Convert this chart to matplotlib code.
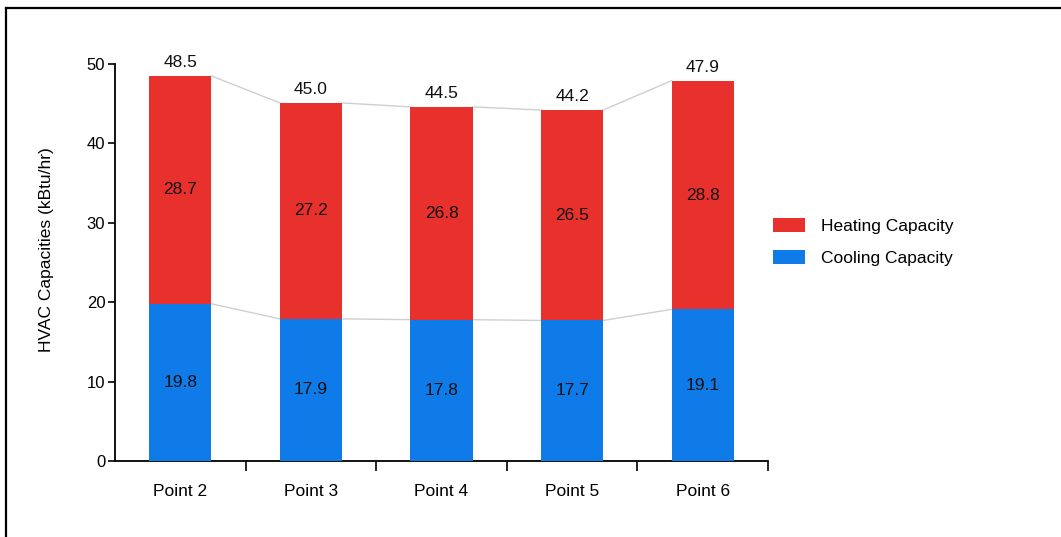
import matplotlib
matplotlib.use("Agg")
import matplotlib.pyplot as plt
from matplotlib.lines import Line2D
import numpy as np

categories = ["Point 2", "Point 3", "Point 4", "Point 5", "Point 6"]
cooling = [19.8, 17.9, 17.8, 17.7, 19.1]
heating = [28.7, 27.2, 26.8, 26.5, 28.8]
totals = [48.5, 45.0, 44.5, 44.2, 47.9]

red = "#E8302C"
blue = "#0E7BE8"
plt.rcParams["font.family"] = ["Liberation Sans", "DejaVu Sans"]
fs = 12.5

fig = plt.figure(figsize=(10.61, 5.37), dpi=100)
ax = fig.add_axes([115/1061, 1-461/537, (768-115)/1061, (461-64)/537])

x = np.arange(len(categories))
w = 0.475
ax.bar(x, cooling, width=w, color=blue, label="Cooling Capacity", zorder=3)
ax.bar(x, heating, width=w, bottom=cooling, color=red, label="Heating Capacity", zorder=3)

# connector lines
for i in range(len(x) - 1):
    ax.plot([x[i] + w/2, x[i+1] - w/2], [cooling[i], cooling[i+1]], color="#cfcfcf", lw=1, zorder=2)
    ax.plot([x[i] + w/2, x[i+1] - w/2], [cooling[i] + heating[i], cooling[i+1] + heating[i+1]],
            color="#cfcfcf", lw=1, zorder=2)

for i in range(len(x)):
    ax.text(x[i], cooling[i] / 2, f"{cooling[i]:.1f}", ha="center", va="center", fontsize=fs, color="#111111", zorder=4)
    ax.text(x[i], cooling[i] + heating[i] / 2, f"{heating[i]:.1f}", ha="center", va="center", fontsize=fs, color="#111111", zorder=4)
    ax.text(x[i], cooling[i] + heating[i] + 0.7, f"{totals[i]:.1f}", ha="center", va="bottom", fontsize=fs,
            color="#111111", zorder=4, clip_on=False)

ax.set_xlim(-0.5, len(x) - 0.5)
ax.set_ylim(0, 50)
ax.set_yticks([0, 10, 20, 30, 40, 50])
ax.set_xticks(x)
ax.set_xticklabels(categories, fontsize=fs)
ax.tick_params(axis="x", length=0, pad=16.5)
ax.set_xticks(np.arange(0.5, len(x), 1.0), minor=True)
ax.tick_params(axis="x", which="minor", length=7, width=1.2, color="black")
ax.tick_params(axis="y", length=5, width=1.2, labelsize=12, pad=2)
for s in ["top", "right"]:
    ax.spines[s].set_visible(False)
for s in ["left", "bottom"]:
    ax.spines[s].set_linewidth(1.3)
ax.set_ylabel("HVAC Capacities (kBtu/hr)", fontsize=12.5)
ax.yaxis.label.set_va("center")
ax.yaxis.set_label_coords((47-115)/653, (461-250)/397)

handles, labels = ax.get_legend_handles_labels()
leg = fig.legend(handles[::-1], labels[::-1], loc="center left", bbox_to_anchor=(773/1061, 1-242/537),
                 frameon=False, fontsize=fs, handlelength=1.84, handleheight=0.86, labelspacing=0.96,
                 handletextpad=0.92, borderpad=0, borderaxespad=0)

# figure border (left and top)
fig.add_artist(Line2D([6/1061, 6/1061], [0, 1-8/537], color="black", lw=1.6, transform=fig.transFigure))
fig.add_artist(Line2D([6/1061, 1], [1-8/537, 1-8/537], color="black", lw=1.6, transform=fig.transFigure))

fig.savefig("out.png", dpi=100)
